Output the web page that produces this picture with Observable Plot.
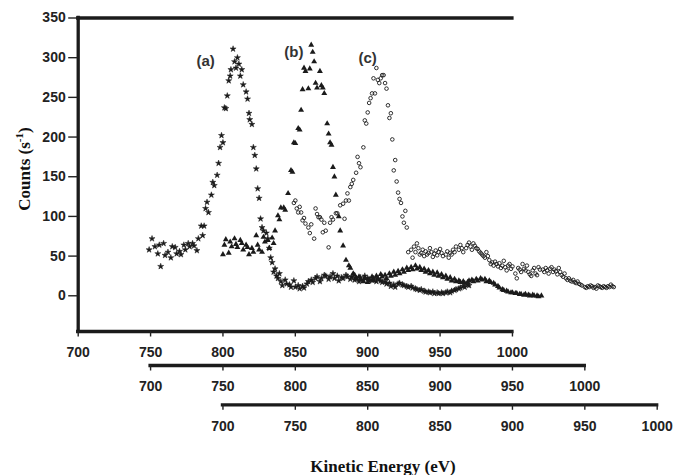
<!DOCTYPE html>
<html>
<head>
<meta charset="utf-8">
<script src="https://cdn.jsdelivr.net/npm/d3@7"></script>
<script src="https://cdn.jsdelivr.net/npm/@observablehq/plot@0.6"></script>
<style>
  html, body { margin: 0; padding: 0; background: #fff; }
</style>
</head>
<body>
<div id="chart"></div>
<script>
// ---------- data ----------
const xTickLabels = [700, 750, 800, 850, 900, 950, 1000];
const yTickLabels = [0, 50, 100, 150, 200, 250, 300, 350];
const seriesLabels = ["(a)", "(b)", "(c)"];
// label anchors, in units of the first (top) energy axis and counts
const labelEnergy = [788, 849, 900];
const labelCounts = [296, 307, 299];

// (a) stars – read on the first energy axis
const aEnergy = [749,751,753,755,756,757,759,760,762,764,765,767,768,770,771,773,774,776,777,779,780,782,783,785,786,787,788,789,790,792,793,794,796,797,798,799,800,801,802,803,804,805,805.5,807,808,809,810,811,812,813,814,816,817,818,818.5,820,821,822,823,824,825,826,827,828,830,831,832,833,834,835,836,837,838,839,840,841,843,844,846,847,849,850,852,853,855,856,858,859,861,862,864,865,867,868,870,871,873,874,876,877,879,880,882,883,885,886,888,889,891,892,894,895,897,898,900,901,903,904,906,907,909,910,912,913,915,916,918,919,921,922,924,925,927,928,930,931,933,934,936,937,939,940,942,943,945,946,948,949,951,952,954,955,957,958,960,961,963,964,966,967,969,970];
const aCounts = [58,72,62,53,64,37,66,51,55,48,62,61,53,56,52,64,58,66,62,66,63,57,72,88,76,88,110,118,105,127,143,139,152,167,187,202,193,237,236,252,271,277,285,311,295,287,300,292,277,285,266,257,248,230,222,216,187,177,160,135,123,97,86,82,79,72,60,48,42,30,34,25,22,28,18,13,20,15,14,11,19,11,13,9,12,10,15,18,20,17,22,24,18,22,26,25,21,24,28,22,25,19,23,22,26,24,21,24,20,22,18,23,20,25,22,19,20,22,18,21,19,17,18,15,16,12,14,11,15,16,14,13,12,11,12,10,9,8,7,8,6,5,5,4,5,3,4,3,4,3,4,5,4,6,7,8,9,10,12,11,14,13];

// (b) triangles – read on the second energy axis
const bEnergy = [750,751,752,754,755,756,758,759,760,762,763,764,766,767,768,770,771,773,774,775,777,778,779,781,782,784,785,786,788,789,790,792,793,795,797,798,799,800,802,803,804,805,806,807,809,810,811,812,813,814,815,817,818,819,820,822,823,824,825,826,827,828,830,831,833,835,837,838,840,841,842,844,845,847,848,850,851,853,854,856,857,859,860,862,863,865,866,868,869,871,872,874,875,877,878,880,881,883,884,886,887,889,890,892,893,895,896,898,899,901,902,904,905,907,908,910,911,913,914,916,917,919,920,922,923,925,926,928,929,931,932,934,935,937,938,940,941,943,944,946,947,949,950,952,953,955,956,958,959,961,962,964,965,967,968,970];
const bCounts = [52,64,71,54,68,62,72,65,61,70,66,58,64,61,52,60,55,76,64,58,55,74,68,70,60,73,66,82,101,96,111,111,108,129,158,156,193,192,211,209,234,260,287,283,261,286,316,307,295,268,262,283,265,262,255,217,204,193,190,162,150,127,100,82,63,45,38,35,28,26,22,24,20,18,22,17,21,24,19,25,22,27,24,26,22,28,25,30,26,31,28,33,30,35,32,36,33,38,34,36,32,34,30,32,28,30,26,29,25,27,23,25,21,23,19,21,18,19,17,18,16,17,19,20,18,21,19,22,20,21,18,19,17,16,14,12,10,8,7,6,5,4,4,3,3,2,2,1,2,1,0,1,0,0,-1,0];

// (c) open circles – read on the third energy axis
const cEnergy = [749,750,751,752,753,754,755,756,757,759,760,761,763,764,765,766,767,768,769,770,771,773,774,775,776,778,779,781,783,784,785,786,787,788,789,790,792,793,794,795,797,798,799,800,801,802,803,804,805,806,807,808,809,810,811,812,813,814,815,816,817,818,819,820,821,822,823,824,825,826,827,828,830,831,832,833,834,835,836,837,838,839,840,841,842,843,844,845,846,847,848,849,850,851,852,854,855,856,857,858,859,860,861,863,864,865,866,868,869,870,871,872,873,874,875,876,877,878,879,880,881,882,883,884,885,886,887,888,889,890,891,892,893,894,895,896,897,898,899,900,902,903,904,905,906,907,908,909,910,911,912,913,914,915,916,917,918,919,921,922,923,924,925,926,927,928,929,930,931,932,933,934,935,936,937,938,939,940,941,942,943,944,945,946,947,948,950,951,952,953,954,955,956,957,958,959,960,961,962,963,964,965,966,967,968,969,970];
const cCounts = [117,120,110,105,112,105,95,98,91,86,79,90,72,110,103,99,99,96,80,92,82,61,92,99,96,104,104,114,116,97,120,129,120,137,141,146,155,175,167,162,187,221,217,231,243,249,255,274,255,287,272,268,274,278,278,268,261,240,224,230,197,158,171,144,130,122,117,100,92,107,86,55,58,48,62,55,66,60,52,54,58,50,56,52,54,60,55,49,53,57,51,55,59,54,50,52,56,48,54,52,58,55,62,58,64,60,55,60,64,67,62,58,66,63,60,59,56,54,52,50,48,55,50,45,40,42,38,43,40,37,41,35,38,44,36,32,38,40,34,37,28,22,35,33,30,40,34,32,38,30,27,25,32,35,28,26,36,33,33,30,35,32,28,34,36,30,33,31,27,35,30,26,24,28,22,20,22,19,18,20,17,16,18,15,14,13,11,10,12,11,13,12,10,11,9,13,12,11,10,12,11,10,12,11,14,12,11,12];

// ---------- layout constants ----------
const offsetB = 50;   // second axis: its 700 sits under 750 of the first
const offsetC = 100;  // third axis: its 700 sits under 800 of the first
const ink = "#1b1b1b";
const axisInk = "#222";
const axis2Dy = 34;
const axis3Dy = 73.3;

const starPts = aEnergy.map((e, i) => ({x: e, y: aCounts[i]}));
const triPts = bEnergy.map((e, i) => ({x: e + offsetB, y: bCounts[i]}));
const circPts = cEnergy.map((e, i) => ({x: e + offsetC, y: cCounts[i]}));

const plain = d3.format("d");
const axisText = {fontSize: 14, fontWeight: "bold", fill: axisInk, label: null, tickSize: 5.5, tickPadding: 10.5, stroke: axisInk, strokeWidth: 1.4};
const lineStyle = {stroke: ink, strokeWidth: 3.3, strokeLinecap: "square"};

const chart = Plot.plot({
  width: 673,
  height: 475,
  marginLeft: 77.7,
  marginRight: 16.3,
  marginTop: 17.5,
  marginBottom: 144,
  x: {domain: [700, 1100]},
  y: {domain: [-45, 350]},
  style: {fontFamily: "'Liberation Sans', Arial, Helvetica, sans-serif", fontWeight: "bold", fontSize: "14px", background: "#fff", color: axisInk},
  marks: [
    Plot.dot(circPts, {x: "x", y: "y", symbol: "circle", r: 1.8, fill: "none", stroke: ink, strokeWidth: 0.9}),
    Plot.dot(starPts, {x: "x", y: "y", symbol: "star", r: 1.9, fill: ink, stroke: ink, strokeWidth: 0.5}),
    Plot.dot(triPts, {x: "x", y: "y", symbol: "triangle", r: 2.2, fill: ink, stroke: null}),

    // frame of the first axis
    Plot.ruleY([350], {x1: 700, x2: 1000, ...lineStyle}),
    Plot.ruleX([700], {y1: -45, y2: 350, ...lineStyle}),
    Plot.ruleY([-45], {x1: 700, x2: 1000, ...lineStyle}),
    // extra energy axes
    Plot.ruleY([-45], {x1: 700 + offsetB, x2: 1000 + offsetB, dy: axis2Dy, ...lineStyle}),
    Plot.ruleY([-45], {x1: 700 + offsetC, x2: 1000 + offsetC, dy: axis3Dy, ...lineStyle}),

    Plot.axisX(xTickLabels, {...axisText, tickFormat: plain}),
    Plot.axisX(xTickLabels.map(t => t + offsetB), {...axisText, tickFormat: d => plain(d - offsetB), dy: axis2Dy}),
    Plot.axisX(xTickLabels.map(t => t + offsetC), {...axisText, tickFormat: d => plain(d - offsetC), dy: axis3Dy}),
    Plot.axisY(yTickLabels, {fontSize: 14, fontWeight: "bold", fill: axisInk, label: null, tickSize: 9.5, tickPadding: 3, stroke: axisInk, strokeWidth: 1.4, tickFormat: plain}),

    Plot.text(seriesLabels, {x: labelEnergy, y: labelCounts, fontSize: 15, fontWeight: "bold", fill: "#333"})
  ]
});

document.getElementById("chart").appendChild(chart);

const svg = d3.select(chart);
const serif = "'Liberation Serif', 'Times New Roman', Times, serif";
svg.append("text")
  .attr("x", 383).attr("y", 472)
  .attr("text-anchor", "middle")
  .style("font-family", serif).style("font-size", "17px").style("font-weight", "bold").style("fill", "#111")
  .text("Kinetic Energy (eV)");

const yl = svg.append("text")
  .attr("transform", "translate(29.5,169) rotate(-90)")
  .attr("text-anchor", "middle")
  .style("font-family", serif).style("font-size", "17px").style("font-weight", "bold").style("fill", "#111");
yl.append("tspan").text("Counts (s");
yl.append("tspan").attr("dy", -7).style("font-size", "11px").text("-1");
yl.append("tspan").attr("dy", 7).text(")");
</script>
</body>
</html>
